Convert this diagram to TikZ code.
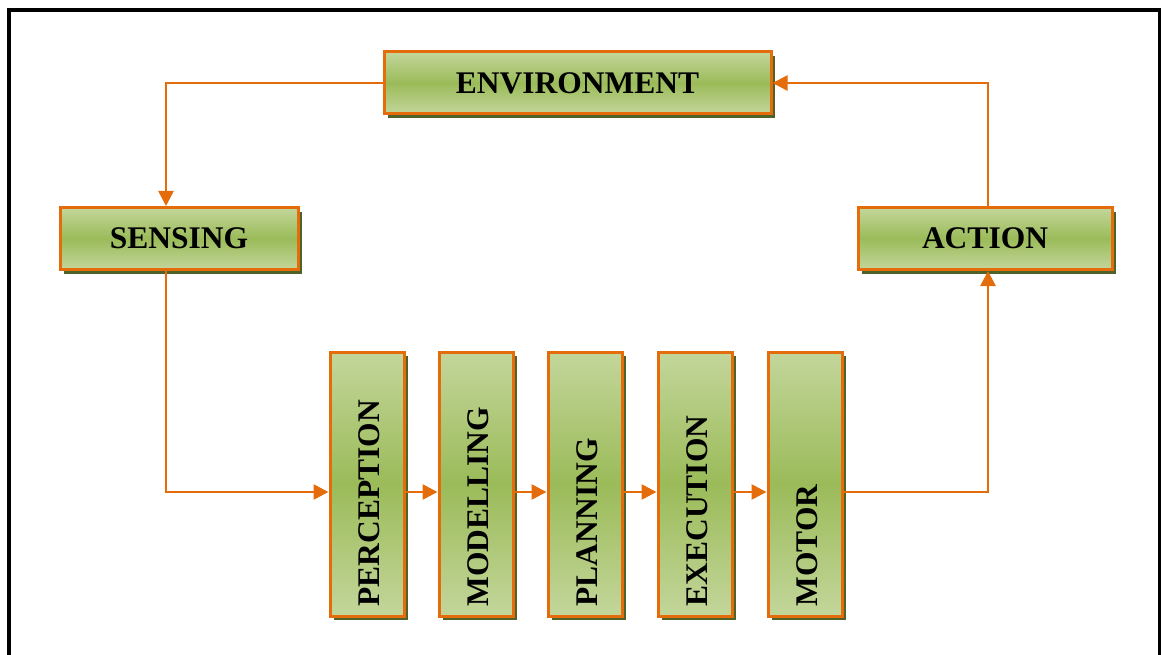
\documentclass[tikz,border=0pt]{standalone}
\usepackage{fontspec}
\setmainfont{Liberation Serif}
\usetikzlibrary{arrows.meta,shadows}
\definecolor{boxlight}{RGB}{195,214,155}
\definecolor{boxmid}{RGB}{155,187,89}
\definecolor{boxedge}{RGB}{228,108,10}
\definecolor{boxshadow}{RGB}{79,98,40}
\tikzset{
  blockbox/.style={draw=boxedge, line width=3pt,
    top color=boxlight, bottom color=boxlight, middle color=boxmid,
    general shadow={fill=boxshadow, shadow xshift=4pt, shadow yshift=-4pt},
    inner sep=0pt, font=\fontsize{31.5}{34}\selectfont\bfseries},
  wide/.style={blockbox, minimum height=62pt},
  tall/.style={blockbox, minimum width=74pt, minimum height=264pt},
  vlabel/.style={rotate=90, anchor=west, inner sep=0pt,
    font=\fontsize{31.5}{34}\selectfont\bfseries},
  conn/.style={draw=boxedge, line width=2.6pt,
    -{Triangle[length=15pt,width=15pt]}},
}
\begin{document}
\begin{tikzpicture}[x=1pt,y=-1pt]
\useasboundingbox (0,0) rectangle (1161,655);
% outer frame
\draw[line width=3.5pt] (9,670) -- (9,10) -- (1160,10) -- (1160,670);

% top row
\node[wide, minimum width=387pt] (env) at (577.5,83) {ENVIRONMENT};
\node[wide, minimum width=238pt] (sens) at (179,238.5) {SENSING};
\node[wide, minimum width=254pt] (act) at (985,238.5) {ACTION};

% processing chain
\node[tall] (perc) at (367,484) {};
\node[tall] (modl) at (476,484) {};
\node[tall] (plan) at (585,484) {};
\node[tall] (exec) at (695,484) {};
\node[tall] (motr) at (805,484) {};
\node[vlabel] (percl) at ([xshift=2pt,yshift=11pt]perc.south) {PERCEPTION};
\node[vlabel] (modll) at ([xshift=2pt,yshift=11pt]modl.south) {MODELLING};
\node[vlabel] (planl) at ([xshift=2pt,yshift=11pt]plan.south) {PLANNING};
\node[vlabel] (execl) at ([xshift=2pt,yshift=11pt]exec.south) {EXECUTION};
\node[vlabel] (motrl) at ([xshift=2pt,yshift=11pt]motr.south) {MOTOR};

% connectors
\draw[conn] (env.west) -| ([xshift=-13pt]sens.north);
\draw[conn] ([xshift=-13pt]sens.south) |- ([yshift=-8pt]perc.west);
\draw[conn] ([yshift=-8pt]perc.east) -- ([yshift=-8pt]modl.west);
\draw[conn] ([yshift=-8pt]modl.east) -- ([yshift=-8pt]plan.west);
\draw[conn] ([yshift=-8pt]plan.east) -- ([yshift=-8pt]exec.west);
\draw[conn] ([yshift=-8pt]exec.east) -- ([yshift=-8pt]motr.west);
\draw[conn] ([yshift=-8pt]motr.east) -| ([xshift=3pt]act.south);
\draw[conn] ([xshift=3pt]act.north) |- (env.east);
\end{tikzpicture}
\end{document}
